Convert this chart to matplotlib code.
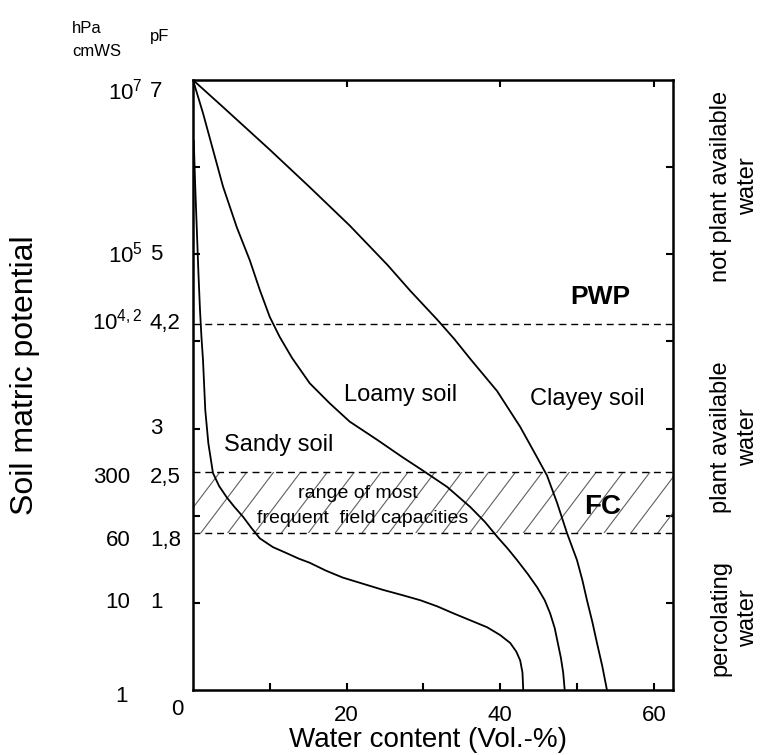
import numpy as np
import matplotlib.pyplot as plt

plt.rcParams['font.family'] = ['Liberation Sans', 'DejaVu Sans']
plt.rcParams['mathtext.fontset'] = 'custom'
plt.rcParams['mathtext.rm'] = 'Liberation Sans'

# water retention curves (water content in Vol.-%, pF)
sandy_x = [0.1, 0.3, 0.5, 0.7, 0.9, 1.1, 1.3, 1.6, 2.0, 2.6, 3.4, 4.4, 5.4, 6.5, 7.6, 8.7, 10.4,
           12.2, 13.7, 15.2, 17.3, 19.5, 22.1, 24.7, 27.2, 29.6, 31.8, 33.9, 36.1, 38.3, 40.0,
           41.3, 42.1, 42.6, 42.9, 43.0]
sandy_pf = [6.3, 5.75, 5.28, 4.8, 4.38, 4.05, 3.79, 3.21, 2.83, 2.49, 2.34, 2.21, 2.1, 1.99,
            1.86, 1.74, 1.64, 1.57, 1.51, 1.46, 1.37, 1.29, 1.22, 1.15, 1.09, 1.03, 0.96, 0.88,
            0.8, 0.72, 0.63, 0.54, 0.44, 0.34, 0.2, 0.0]

loamy_x = [0.0, 1.3, 2.6, 3.9, 5.7, 7.4, 8.7, 10.0, 11.3, 12.9, 15.2, 17.8, 20.4, 24.0,
           27.3, 29.9, 33.1, 36.1, 38.0, 39.6, 41.0, 42.2, 43.6, 44.8, 45.8, 46.5, 47.1, 47.5,
           47.9, 48.2, 48.4]
loamy_pf = [7.0, 6.62, 6.2, 5.78, 5.31, 4.93, 4.59, 4.28, 4.05, 3.81, 3.52, 3.29, 3.08,
            2.87, 2.67, 2.52, 2.33, 2.1, 1.93, 1.76, 1.62, 1.49, 1.33, 1.18, 1.03, 0.88, 0.71,
            0.54, 0.37, 0.2, 0.0]

clayey_x = [0.0, 3.9, 10.0, 15.2, 20.4, 25.3, 28.3, 31.8, 34.0, 36.1, 39.6, 42.6, 44.8, 46.1,
            47.4, 48.7, 50.0, 50.7, 51.3, 52.0, 52.6, 53.3, 53.9]
clayey_pf = [7.0, 6.69, 6.2, 5.77, 5.33, 4.88, 4.58, 4.25, 4.03, 3.8, 3.43, 3.02, 2.67, 2.46,
             2.15, 1.8, 1.49, 1.26, 1.03, 0.78, 0.54, 0.27, 0.0]

pwp = 4.2
fc_low, fc_high = 1.8, 2.5

pf_pos = [7, 5, 4.2, 3, 2.5, 1.8, 1, 0]
pf_labels = ['7', '5', '4,2', '3', '2,5', '1,8', '1', '0']
hpa_pos = [7, 5, 4.2, 2.5, 1.8, 1, 0]
hpa_labels = [r'$\mathregular{10^{7}}$', r'$\mathregular{10^{5}}$', r'$\mathregular{10^{4,2}}$',
              '300', '60', '10', '1']
x_ticks = [10, 20, 30, 40, 50, 60]
x_ticklabels = ['', '20', '', '40', '', '60']

fig = plt.figure(figsize=(7.63, 7.55), dpi=100)
ax = fig.add_axes([193 / 763, 1 - 690 / 755, 480 / 763, 610 / 755])
ax.set_xlim(0, 62.5)
ax.set_ylim(0, 7)

# FC band with hatching
band = ax.fill_between([0, 62.5], fc_low, fc_high, facecolor='none', edgecolor='none')
for x0 in np.arange(-6, 63, 3.5):
    ln, = ax.plot([x0, x0 + 6], [fc_low, fc_high], color='#606060', lw=0.8)
    ln.set_clip_path(band.get_paths()[0], ax.transData)
for yv in (fc_low, fc_high, pwp):
    ax.plot([0, 62.5], [yv, yv], color='black', lw=1, dashes=(5, 3.5), clip_on=False)

for xs, ys in ((sandy_x, sandy_pf), (loamy_x, loamy_pf), (clayey_x, clayey_pf)):
    ax.plot(xs, ys, color='black', lw=1.3, solid_joinstyle='round')

for sp in ax.spines.values():
    sp.set_linewidth(1.8)
ax.set_xticks(x_ticks)
ax.set_xticklabels(x_ticklabels, fontsize=16)
ax.set_yticks([1, 2, 3, 4, 5, 6])
ax.set_yticklabels([])
ax.tick_params(direction='in', length=5, width=1.5, right=True, pad=11)
top = ax.secondary_xaxis('top')
top.set_xticks([20, 40, 60])
top.set_xticklabels([])
top.tick_params(direction='in', length=5, width=1.5)

# left label columns
pf_dy = [-8, 0, 0, 0, -4, -5, 0, -14]
for v, s, dy in zip(pf_pos, pf_labels, pf_dy):
    dx = -31 if v != 0 else -16
    ax.annotate(s, xy=(0, v), xycoords=('axes fraction', 'data'), xytext=(dx, dy),
                textcoords='offset points', ha='left', va='center', fontsize=16)
hpa_dx = [-36, -36, -36, -45, -45, -45, -47]
hpa_dy = [-8, 0, 2, -4, -5, 0, -5]
for v, s, dx, dy in zip(hpa_pos, hpa_labels, hpa_dx, hpa_dy):
    ax.annotate(s, xy=(0, v), xycoords=('axes fraction', 'data'), xytext=(dx, dy),
                textcoords='offset points', ha='right', va='center', fontsize=16)

fig.text(72 / 763, 1 - 40 / 755, 'hPa\ncmWS', fontsize=12, ha='left', va='center', linespacing=1.6)
fig.text(150 / 763, 1 - 37 / 755, 'pF', fontsize=12, ha='left', va='center')

ax.text(27.0, 3.39, 'Loamy soil', fontsize=17, ha='center', va='center')
ax.text(51.3, 3.34, 'Clayey soil', fontsize=17, ha='center', va='center')
ax.text(11.1, 2.81, 'Sandy soil', fontsize=17, ha='center', va='center')
ax.text(21.5, 2.26, 'range of most', fontsize=14, ha='center', va='center')
ax.text(22.1, 1.97, 'frequent  field capacities', fontsize=14, ha='center', va='center')
ax.text(53.4, 2.10, 'FC', fontsize=20, fontweight='bold', ha='center', va='center')
ax.text(53.0, 4.51, 'PWP', fontsize=19, fontweight='bold', ha='center', va='center')

fig.text(428 / 763, 2 / 755, 'Water content (Vol.-%)', fontsize=20, ha='center', va='bottom')
fig.text(25 / 763, 1 - 375 / 755, 'Soil matric potential', fontsize=23, rotation=90,
         ha='center', va='center')

# right-hand zone labels
ytr = ax.get_yaxis_transform()
ax.text(1.128, 5.78, 'not plant available\nwater', transform=ytr,
        rotation=90, fontsize=17, ha='center', va='center', linespacing=1.3)
ax.text(1.128, 2.9, 'plant available\nwater', transform=ytr,
        rotation=90, fontsize=17, ha='center', va='center', linespacing=1.3)
ax.text(1.128, 0.83, 'percolating\nwater', transform=ytr,
        rotation=90, fontsize=17, ha='center', va='center', linespacing=1.3)

fig.savefig('out.png', dpi=100)
